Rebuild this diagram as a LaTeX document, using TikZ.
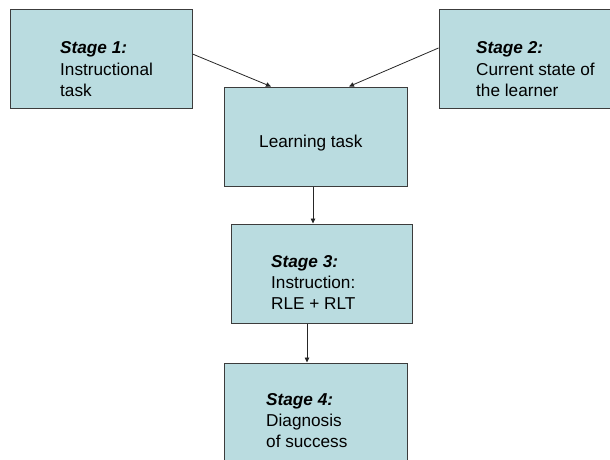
\documentclass[tikz,border=0pt]{standalone}
\usepackage{fontspec}
\setmainfont{Liberation Sans}
\usetikzlibrary{arrows.meta}
\definecolor{boxfill}{RGB}{186,220,224}
\definecolor{boxline}{RGB}{60,60,60}
\newcommand{\stagehead}[1]{\textbf{\textit{#1}}}
\begin{document}
\begin{tikzpicture}[x=1pt,y=1pt,
  stagebox/.style={rectangle,draw=boxline,line width=1pt,fill=boxfill,inner sep=0pt},
  stagetext/.style={anchor=base west,inner sep=0pt,font=\fontsize{17.2}{21.3}\selectfont},
  flow/.style={draw=black!85,line width=0.8pt,-{Triangle[length=5pt,width=4.5pt]}}]
  \useasboundingbox (0,0) rectangle (610,459);

  % boxes
  \node[stagebox,minimum width=182,minimum height=98] (b1) at (101,400) {};
  \node[stagebox,minimum width=173,minimum height=98] (b2) at (525.5,400) {};
  \node[stagebox,minimum width=183,minimum height=99] (lt) at (315.5,322.5) {};
  \node[stagebox,minimum width=181,minimum height=99] (b3) at (321.5,185.5) {};
  \node[stagebox,minimum width=183,minimum height=99] (b4) at (315.5,46.5) {};

  % labels
  \node[stagetext] (t1) at (60,405) {\begin{tabular}[t]{@{}l@{}}\stagehead{Stage 1:}\\Instructional\\task\end{tabular}};
  \node[stagetext] (t2) at (476,405) {\begin{tabular}[t]{@{}l@{}}\stagehead{Stage 2:}\\Current state of\\the learner\end{tabular}};
  \node[stagetext] (tl) at (259,312) {Learning task};
  \node[stagetext] (t3) at (271,192) {\begin{tabular}[t]{@{}l@{}}\stagehead{Stage 3:}\\Instruction:\\RLE + RLT\end{tabular}};
  \node[stagetext] (t4) at (266,54) {\begin{tabular}[t]{@{}l@{}}\stagehead{Stage 4:}\\Diagnosis\\of success\end{tabular}};

  % connectors
  \draw[flow] ([yshift=5pt]b1.east) -- ([xshift=-44.5pt]lt.north);
  \draw[flow] ([yshift=11pt]b2.west) -- ([xshift=33.5pt]lt.north);
  \draw[flow] ([xshift=-2.5pt]lt.south) -- ([xshift=-2.5pt]lt.south |- b3.north);
  \draw[flow] ([xshift=-14.5pt]b3.south) -- ([xshift=-14.5pt]b3.south |- b4.north);
\end{tikzpicture}
\end{document}
